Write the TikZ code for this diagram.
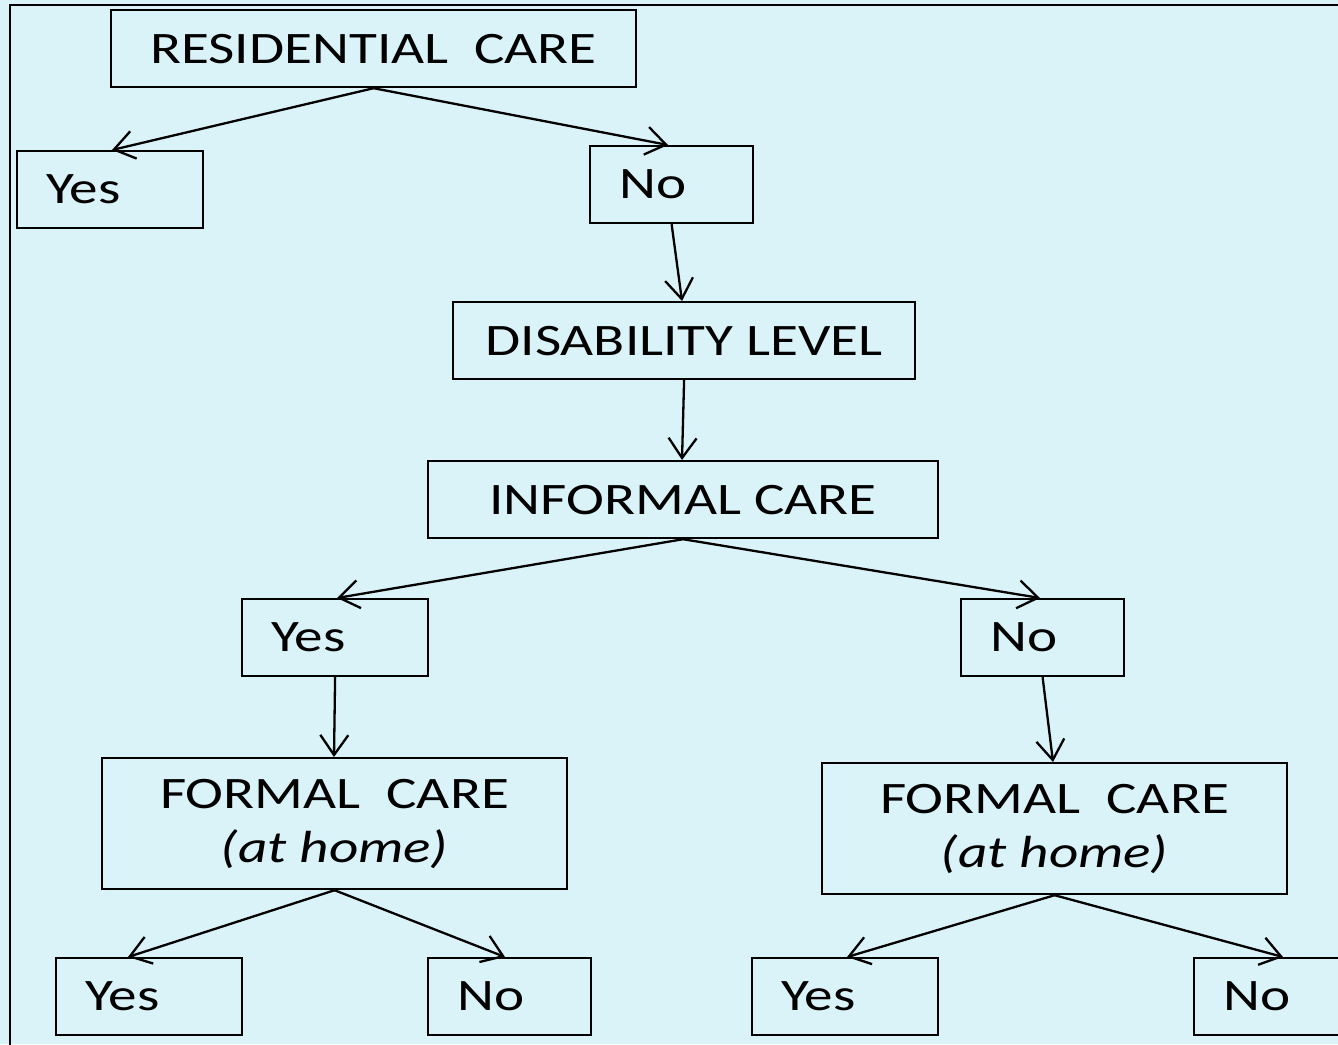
\documentclass[tikz,border=0pt]{standalone}
\usepackage{fontspec}
\setmainfont[FakeStretch=1.27]{Carlito}
\usetikzlibrary{arrows.meta}
\definecolor{bgc}{RGB}{218,243,248}
\begin{document}
\begin{tikzpicture}[x=1pt,y=-1pt,
  font=\fontsize{45}{54}\selectfont,
  box/.style={draw, line width=2.2pt, rectangle, inner ysep=0pt, anchor=north west, minimum height=77pt},
  ybox/.style={box, inner xsep=29pt, text width=128pt, align=left},
  nbox/.style={box, inner xsep=29pt, text width=105pt, align=left},
  cbox/.style={box, inner xsep=0pt, align=center},
  arr/.style={line width=2.3pt, -{Straight Barb[length=20pt,width=28pt]}}]
\path[use as bounding box, fill=bgc] (0,0) rectangle (1338,1044);
\clip (0,0) rectangle (1338,1044);
\draw[line width=1.6pt] (10,5) rectangle (1360,1070);
% nodes
\node[cbox, minimum width=525pt] (res) at (110,9) {RESIDENTIAL\ \ CARE};
\node[ybox] (yes1) at (16,150) {Yes};
\node[nbox] (no1) at (589,145) {No};
\node[cbox, minimum width=462pt] (dis) at (452,301) {DISABILITY LEVEL};
\node[cbox, minimum width=510pt] (inf) at (427,460) {INFORMAL CARE};
\node[ybox] (yes2) at (241,598) {Yes};
\node[nbox] (no2) at (960,598) {No};
\node[cbox, minimum width=465pt, minimum height=131pt] (fc1) at (101,757) {FORMAL\ \ CARE\\\textit{(at home)}};
\node[cbox, minimum width=465pt, minimum height=131pt] (fc2) at (821,762) {FORMAL\ \ CARE\\\textit{(at home)}};
\node[ybox] (yes3) at (55,957) {Yes};
\node[nbox] (no3) at (427,957) {No};
\node[ybox] (yes4) at (751,957) {Yes};
\node[nbox] (no4) at (1193,957) {No};
% connectors
\draw[arr] (res.south) -- ([xshift=96pt]yes1.north west);
\draw[arr] (res.south) -- ([xshift=79pt]no1.north west);
\draw[arr] (no1.south) -- ([xshift=230pt]dis.north west);
\draw[arr] (dis.south) -- ([xshift=255pt]inf.north west);
\draw[arr] (inf.south) -- ([xshift=96pt]yes2.north west);
\draw[arr] (inf.south) -- ([xshift=80pt]no2.north west);
\draw[arr] (yes2.south) -- ([xshift=233pt]fc1.north west);
\draw[arr] (no2.south) -- ([xshift=232pt]fc2.north west);
\draw[arr] (fc1.south) -- ([xshift=73pt]yes3.north west);
\draw[arr] (fc1.south) -- ([xshift=78pt]no3.north west);
\draw[arr] (fc2.south) -- ([xshift=96pt]yes4.north west);
\draw[arr] (fc2.south) -- ([xshift=90pt]no4.north west);
\end{tikzpicture}
\end{document}
